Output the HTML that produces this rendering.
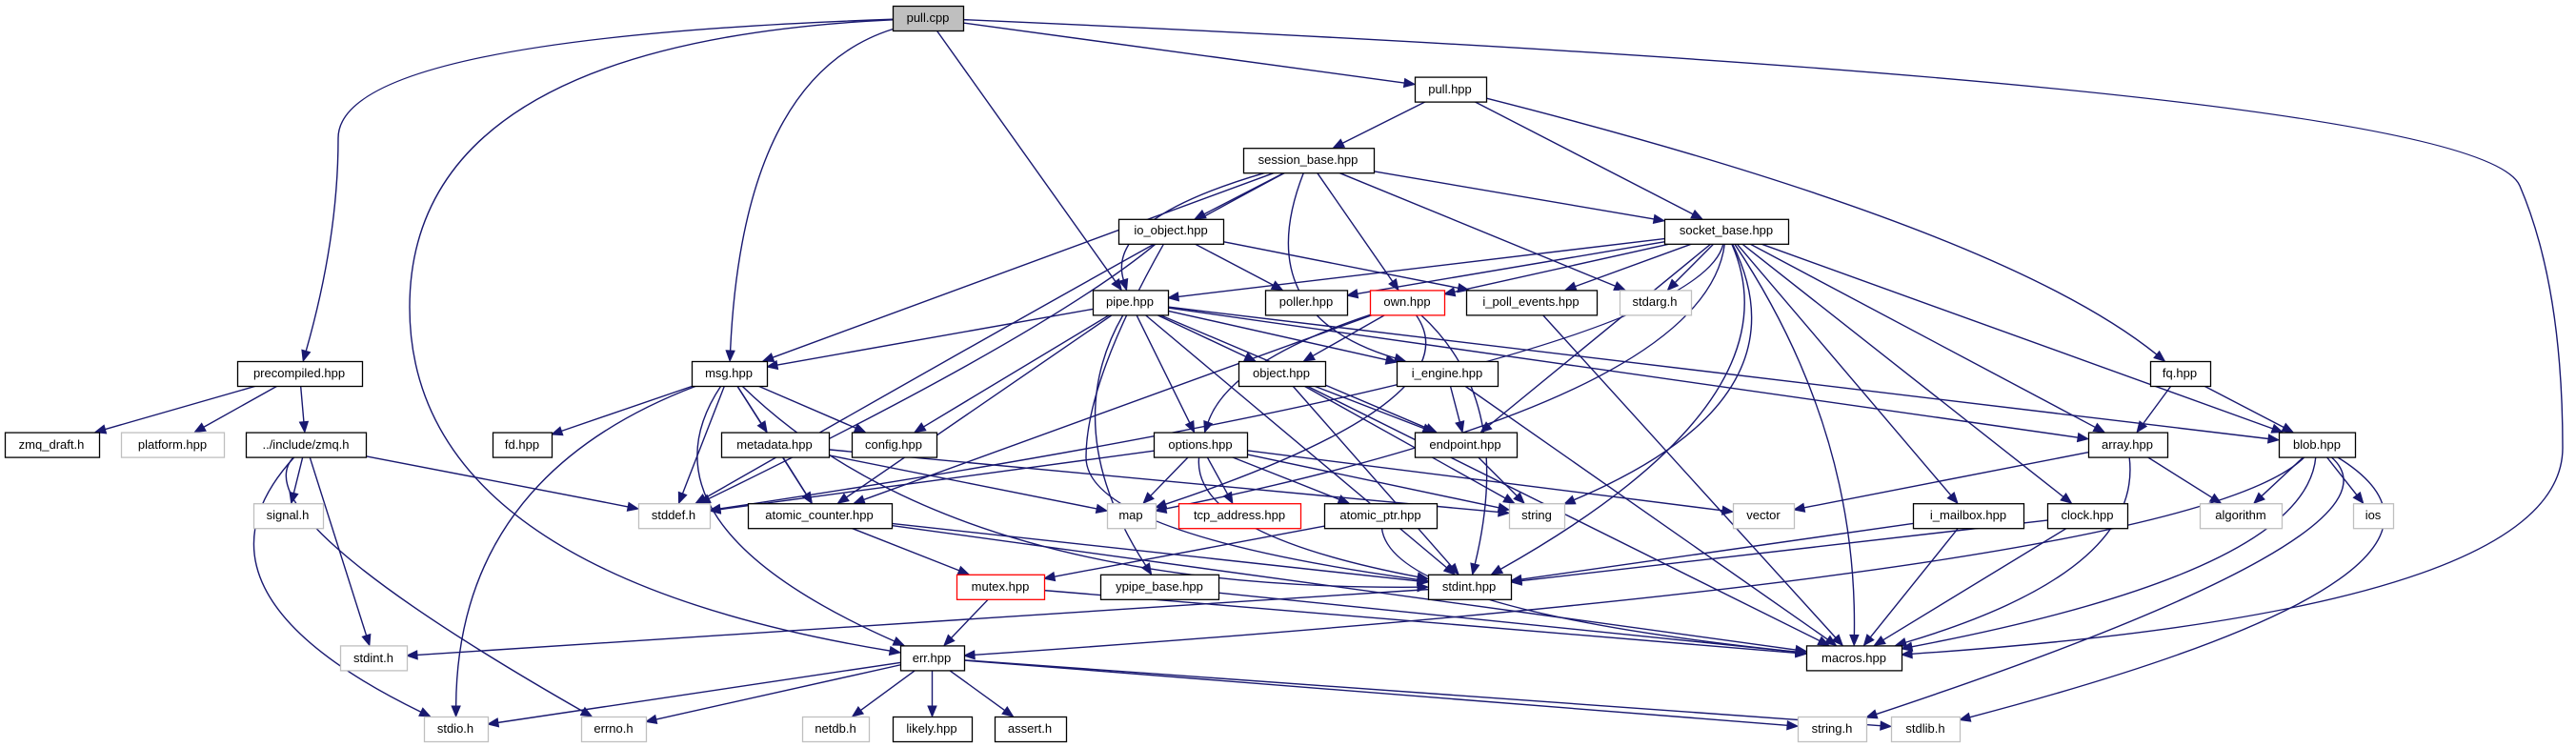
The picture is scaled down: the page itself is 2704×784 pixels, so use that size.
<!DOCTYPE html>
<html><head><meta charset="utf-8"><style>
html,body{margin:0;padding:0;background:#fff;}
svg{display:block;}
text{font-family:"Liberation Sans",sans-serif;font-size:13px;fill:#000;}
</style></head><body>
<svg id="g" width="2704" height="784" viewBox="0 0 2704 784" xmlns="http://www.w3.org/2000/svg">
<g id="edges" fill="none" stroke="#191970" stroke-width="1.4"></g>
<g id="heads" fill="#191970" stroke="#191970" stroke-width="1"></g>
<g id="nodes"></g>
<g id="labels" text-anchor="middle">
<text x="974" y="23">pull.cpp</text>
<text x="1522" y="98">pull.hpp</text>
<text x="1373" y="172">session_base.hpp</text>
<text x="1229" y="246">io_object.hpp</text>
<text x="1812" y="246">socket_base.hpp</text>
<text x="1186" y="321">pipe.hpp</text>
<text x="1371" y="321">poller.hpp</text>
<text x="1477" y="321">own.hpp</text>
<text x="1607" y="321">i_poll_events.hpp</text>
<text x="1737" y="321">stdarg.h</text>
<text x="314" y="396">precompiled.hpp</text>
<text x="765" y="396">msg.hpp</text>
<text x="1345" y="396">object.hpp</text>
<text x="1519" y="396">i_engine.hpp</text>
<text x="2288" y="396">fq.hpp</text>
<text x="54" y="471">zmq_draft.h</text>
<text x="181" y="471">platform.hpp</text>
<text x="321" y="471">../include/zmq.h</text>
<text x="548" y="471">fd.hpp</text>
<text x="813" y="471">metadata.hpp</text>
<text x="938" y="471">config.hpp</text>
<text x="1260" y="471">options.hpp</text>
<text x="1538" y="471">endpoint.hpp</text>
<text x="2233" y="471">array.hpp</text>
<text x="2432" y="471">blob.hpp</text>
<text x="302" y="545">signal.h</text>
<text x="707" y="545">stddef.h</text>
<text x="860" y="545">atomic_counter.hpp</text>
<text x="1187" y="545">map</text>
<text x="1301" y="545">tcp_address.hpp</text>
<text x="1449" y="545">atomic_ptr.hpp</text>
<text x="1613" y="545">string</text>
<text x="1851" y="545">vector</text>
<text x="2066" y="545">i_mailbox.hpp</text>
<text x="2191" y="545">clock.hpp</text>
<text x="2352" y="545">algorithm</text>
<text x="2491" y="545">ios</text>
<text x="1050" y="620">mutex.hpp</text>
<text x="1217" y="620">ypipe_base.hpp</text>
<text x="1542" y="620">stdint.hpp</text>
<text x="392" y="695">stdint.h</text>
<text x="978" y="695">err.hpp</text>
<text x="1946" y="695">macros.hpp</text>
<text x="478" y="769">stdio.h</text>
<text x="644" y="769">errno.h</text>
<text x="877" y="769">netdb.h</text>
<text x="978" y="769">likely.hpp</text>
<text x="1081" y="769">assert.h</text>
<text x="1923" y="769">string.h</text>
<text x="2021" y="769">stdlib.h</text>
</g>
</svg>
<script>
var R=function(k){return 6+74.6*k;};
var N={
'pull.cpp':[937,1011,0,'s'],
'pull.hpp':[1485,1560,1,'b'],
'session_base':[1305,1442,2,'b'],
'io_object':[1174,1284,3,'b'],
'socket_base':[1747,1877,3,'b'],
'pipe':[1147,1226,4,'b'],
'poller':[1328,1414,4,'b'],
'own':[1438,1516,4,'r'],
'i_poll_events':[1539,1676,4,'b'],
'stdarg':[1700,1775,4,'g'],
'precompiled':[249,380,5,'b'],
'msg':[726,805,5,'b'],
'object':[1300,1391,5,'b'],
'i_engine':[1466,1572,5,'b'],
'fq':[2257,2320,5,'b'],
'zmq_draft':[5,104,6,'b'],
'platform':[127,235,6,'g'],
'zmq.h':[258,384,6,'b'],
'fd':[517,579,6,'b'],
'metadata':[757,870,6,'b'],
'config':[894,983,6,'b'],
'options':[1211,1309,6,'b'],
'endpoint':[1485,1592,6,'b'],
'array':[2192,2275,6,'b'],
'blob':[2392,2472,6,'b'],
'signal':[266,339,7,'g'],
'stddef':[670,745,7,'g'],
'atomic_counter':[785,936,7,'b'],
'map':[1162,1213,7,'g'],
'tcp_address':[1237,1365,7,'r'],
'atomic_ptr':[1390,1508,7,'b'],
'string':[1584,1642,7,'g'],
'vector':[1819,1883,7,'g'],
'i_mailbox':[2008,2124,7,'b'],
'clock':[2149,2233,7,'b'],
'algorithm':[2309,2395,7,'g'],
'ios':[2470,2512,7,'g'],
'mutex':[1004,1096,8,'r'],
'ypipe_base':[1155,1279,8,'b'],
'stdint.hpp':[1499,1586,8,'b'],
'stdint.h':[357,427,9,'g'],
'err':[945,1012,9,'b'],
'macros':[1896,1996,9,'b'],
'stdio':[445,512,10,'g'],
'errno':[610,678,10,'g'],
'netdb':[842,912,10,'g'],
'likely':[937,1020,10,'b'],
'assert':[1044,1119,10,'b'],
'string.h':[1887,1959,10,'g'],
'stdlib':[1985,2057,10,'g']
};
var E=[
['pull.cpp','precompiled',[[355,40],[355,250]]],['pull.cpp','err',[[430,45],[430,600]]],['pull.cpp','msg',[[780,80]]],['pull.cpp','pipe'],['pull.cpp','pull.hpp'],['pull.cpp','macros',[[2600,90],[2690,300],[2690,640]]],
['pull.hpp','session_base'],['pull.hpp','socket_base'],['pull.hpp','fq',[[2100,240]]],
['session_base','io_object'],['session_base','own'],['session_base','socket_base'],['session_base','stdarg'],['session_base','msg'],['session_base','pipe',[[1160,230]]],['session_base','i_engine',[[1310,330]]],['session_base','stddef',[[1200,260]]],
['io_object','poller'],['io_object','i_poll_events'],['io_object','stdint.hpp',[[1140,400],[1140,560]]],['io_object','stddef',[[1100,350]]],
['socket_base','pipe'],['socket_base','poller'],['socket_base','own'],['socket_base','i_poll_events'],['socket_base','stdarg'],['socket_base','array'],['socket_base','blob'],['socket_base','i_mailbox'],['socket_base','clock'],['socket_base','endpoint'],['socket_base','string',[[1900,420]]],['socket_base','stdint.hpp',[[1890,420]]],['socket_base','map',[[1790,420]]],['socket_base','macros',[[1950,450]]],['socket_base','stddef',[[1780,380]]],
['pipe','msg'],['pipe','config'],['pipe','options'],['pipe','object'],['pipe','i_engine'],['pipe','endpoint'],['pipe','array'],['pipe','blob'],['pipe','stdint.hpp'],['pipe','ypipe_base',[[1110,450]]],['pipe','atomic_counter'],
['own','object'],['own','options',[[1290,380]]],['own','stdint.hpp',[[1590,420]]],['own','map',[[1550,420]]],['own','atomic_counter'],
['object','endpoint'],['object','string'],['object','stdint.hpp'],['object','macros'],
['i_engine','endpoint'],['i_engine','macros'],
['i_poll_events','macros'],
['msg','fd'],['msg','metadata'],['msg','config'],['msg','atomic_counter'],['msg','stddef'],['msg','stdio',[[480,500]]],['msg','err',[[660,550]]],['msg','stdint.hpp',[[1000,620]]],
['metadata','atomic_counter'],['metadata','map'],['metadata','string'],
['precompiled','zmq_draft'],['precompiled','platform'],['precompiled','zmq.h'],
['zmq.h','signal'],['zmq.h','stdint.h'],['zmq.h','stddef'],['zmq.h','stdio',[[180,620]]],['zmq.h','errno',[[250,540]]],
['options','map'],['options','tcp_address'],['options','atomic_ptr'],['options','stddef'],['options','string'],['options','vector'],['options','stdint.hpp',[[1250,560]]],
['endpoint','string'],
['atomic_counter','mutex'],['atomic_counter','stdint.hpp'],['atomic_counter','macros'],
['atomic_ptr','mutex'],['atomic_ptr','macros',[[1460,640]]],
['mutex','err'],['mutex','macros'],['ypipe_base','macros'],
['stdint.hpp','stdint.h'],
['err','stdio'],['err','errno'],['err','netdb'],['err','likely'],['err','assert'],['err','string.h'],['err','stdlib'],
['array','vector'],['array','algorithm'],['array','macros',[[2250,600]]],
['blob','algorithm'],['blob','ios'],['blob','string.h',[[2540,560]]],['blob','stdlib',[[2650,600]]],['blob','macros',[[2420,600]]],['blob','err',[[2300,600]]],
['fq','array'],['fq','blob'],
['i_mailbox','stdint.hpp'],['i_mailbox','macros'],['clock','stdint.hpp'],['clock','macros']
];
var ns='http://www.w3.org/2000/svg';
function el(t,a,p){var e=document.createElementNS(ns,t);for(var k in a)e.setAttribute(k,a[k]);document.getElementById(p).appendChild(e);return e;}
function box(n){var d=N[n];var y=R(d[2]);return {x1:d[0],x2:d[1],y1:y,y2:y+26,cx:(d[0]+d[1])/2,cy:y+13};}
for(var n in N){var b=box(n),st=N[n][3];
el('rect',{x:b.x1+0.5,y:b.y1+0.5,width:b.x2-b.x1,height:26,fill:st=='s'?'#bfbfbf':'#fff',stroke:st=='g'?'#bfbfbf':(st=='r'?'#ff0000':'#000'),'stroke-width':1.3},'nodes');}
function clip(b,px,py){var dx=px-b.cx,dy=py-b.cy;var hw=(b.x2-b.x1)/2,hh=13;var t=1;
if(dx!=0)t=Math.min(t,hw/Math.abs(dx));if(dy!=0)t=Math.min(t,hh/Math.abs(dy));return [b.cx+dx*t,b.cy+dy*t];}
E.forEach(function(e){var s=box(e[0]),t=box(e[1]);var via=e[2]||[];
var first=via.length?via[0]:[t.cx,t.cy];var last=via.length?via[via.length-1]:[s.cx,s.cy];
var p0=clip(s,first[0],first[1]);var p1=clip(t,last[0],last[1]);
var pts=[p0].concat(via).concat([p1]);
var ax=p1[0]-last[0],ay=p1[1]-last[1];if(!via.length){ax=p1[0]-p0[0];ay=p1[1]-p0[1];}
var L=Math.sqrt(ax*ax+ay*ay)||1;ax/=L;ay/=L;
var bx=p1[0]-ax*11,by=p1[1]-ay*11;pts[pts.length-1]=[bx,by];
var d='M'+pts[0][0]+','+pts[0][1];
if(pts.length==2)d+=' L'+bx+','+by;
else{for(var i=1;i<pts.length-1;i++){var m=[(pts[i][0]+pts[i+1][0])/2,(pts[i][1]+pts[i+1][1])/2];if(i==pts.length-2)m=pts[i+1];d+=' Q'+pts[i][0]+','+pts[i][1]+' '+m[0]+','+m[1];}}
el('path',{d:d},'edges');
var px=-ay,py=ax;
el('polygon',{points:p1[0]+','+p1[1]+' '+(bx+px*4.5)+','+(by+py*4.5)+' '+(bx-px*4.5)+','+(by-py*4.5)},'heads');});
</script>
</body></html>
